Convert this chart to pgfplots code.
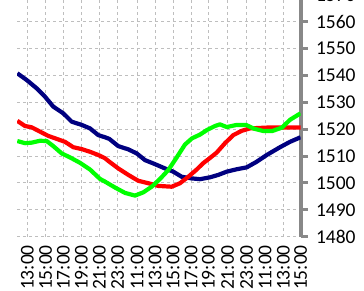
\documentclass[border=0pt]{standalone}
\usepackage{fontspec}
\setmainfont{Carlito}
\usepackage{pgfplots}
\pgfplotsset{compat=1.18}
\definecolor{axgray}{RGB}{136,136,136}
\definecolor{gridgray}{RGB}{190,190,190}
\definecolor{cnavy}{RGB}{0,0,128}
\definecolor{cred}{RGB}{255,0,0}
\definecolor{cgreen}{RGB}{0,255,0}
\begin{document}
\begin{tikzpicture}
\useasboundingbox (0pt,0pt) rectangle (364pt,290pt);
\clip (0pt,0pt) rectangle (364pt,290pt);
\begin{axis}[
  at={(17pt,53.3pt)}, anchor=south west,
  scale only axis, width=283.5pt, height=241.875pt,
  xmin=17, xmax=300.5, ymin=1480, ymax=1570,
  axis x line*=bottom, axis y line*=right,
  x axis line style={draw=none},
  y axis line style={draw=axgray, line width=4pt, -},
  tick align=outside, major tick length=7pt,
  xtick style={draw=none},
  ytick style={draw=axgray, line width=3pt},
  xtick={27.3,45.7,63.3,81.3,99.3,117.5,137.2,155,173.2,191,208.3,227.7,246.7,265,283.3,300.5},
  xticklabels={13:00,15:00,17:00,19:00,21:00,23:00,11:00,13:00,15:00,17:00,19:00,21:00,23:00,11:00,13:00,15:00},
  ytick={1480,1490,...,1570},
  grid=major,
  major grid style={draw=gridgray, dash pattern=on 3pt off 3pt, line width=1pt},
  ticklabel style={font=\fontsize{19.5}{22}\selectfont, text=black},
  xticklabel style={yshift=2pt, rotate=90, anchor=east},
  yticklabel style={xshift=5pt},
  /pgf/number format/1000 sep={},
  /pgf/number format/assume math mode=true,
  every axis plot/.append style={line width=4.2pt, line join=round, no markers},
]
\addplot[cnavy] coordinates {
(17.3,1540.8) (26.7,1538.3) (36.7,1535.2) (45,1532.1) (53.3,1528.4) (63.3,1525.9) (71.7,1522.8) (81.7,1521.6) (90,1520.3) (98.3,1517.8) (105,1517.0) (109.3,1516.4) (118.3,1513.7) (128.3,1512.5) (136.7,1511.0) (145,1508.5) (155,1507.0) (165,1505.4) (173.3,1504.2) (181.7,1502.3) (191.7,1501.7) (200,1501.4) (210,1502.1) (218.3,1503.0) (226.7,1504.2) (236.7,1505.1) (246.7,1505.8) (256.7,1507.9) (266.7,1510.4) (280,1513.3) (290,1515.3) (300.5,1517.0)
};
\addplot[cred] coordinates {
(17.3,1523.1) (25,1521.2) (31.7,1520.7) (40,1519.1) (48.3,1517.5) (56.7,1516.4) (65,1515.3) (73.3,1513.3) (81.7,1512.6) (90,1511.6) (98.3,1510.4) (105,1509.2) (109.3,1507.9) (118.3,1505.4) (128.3,1503.0) (138.3,1500.8) (148.3,1499.9) (158.3,1498.9) (171.7,1498.6) (180,1499.9) (188.3,1502.3) (196.7,1505.0) (203,1507.3) (210,1509.3) (216.7,1511.3) (225,1514.8) (233.3,1517.8) (241.7,1519.4) (250,1520.3) (266.7,1520.6) (283.3,1520.6) (300.5,1520.6)
};
\addplot[cgreen] coordinates {
(17.3,1515.6) (25,1514.8) (31.7,1515.0) (40,1515.7) (46.7,1515.6) (53.3,1513.7) (61.7,1511.0) (70,1509.5) (80,1507.5) (90,1505.0) (100,1501.5) (105,1500.5) (115,1498.3) (125,1496.3) (135,1495.3) (143.3,1496.5) (151.7,1498.6) (160,1501.5) (168.3,1504.8) (176.7,1509.5) (185,1514.3) (192,1516.6) (200,1518.0) (207,1519.7) (215,1521.2) (220,1521.8) (226.7,1520.8) (236.7,1521.6) (246,1521.6) (254,1520.2) (263.5,1519.3) (272,1519.3) (282,1520.6) (290,1523.5) (300.5,1525.9)
};
\end{axis}
\end{tikzpicture}
\end{document}
